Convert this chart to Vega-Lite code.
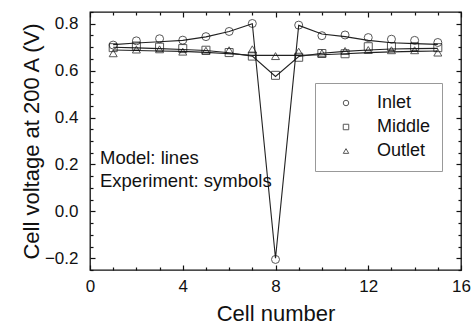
{
  "$schema": "https://vega.github.io/schema/vega-lite/v6.json",
  "width": 371,
  "height": 258,
  "autosize": "none",
  "padding": {"left": 90, "top": 12, "right": 12, "bottom": 56},
  "background": "white",
  "config": {
    "font": "Liberation Sans",
    "view": {"stroke": "#111", "strokeWidth": 1.3},
    "axis": {
      "grid": false,
      "domain": false,
      "tickColor": "#111",
      "tickWidth": 1.2,
      "labelColor": "#111",
      "titleColor": "#111",
      "labelFontSize": 17,
      "titleFontSize": 22,
      "titleFontWeight": "normal",
      "labelFlush": false,
      "labelOverlap": false
    },
    "legend": {
      "labelFontSize": 18,
      "labelColor": "#111"
    }
  },
  "datasets": {
    "model": [
      {"cell": 1, "series": "Inlet", "v": 0.711},
      {"cell": 2, "series": "Inlet", "v": 0.718},
      {"cell": 3, "series": "Inlet", "v": 0.723},
      {"cell": 4, "series": "Inlet", "v": 0.729},
      {"cell": 5, "series": "Inlet", "v": 0.744},
      {"cell": 6, "series": "Inlet", "v": 0.767},
      {"cell": 7, "series": "Inlet", "v": 0.8},
      {"cell": 8, "series": "Inlet", "v": -0.2},
      {"cell": 9, "series": "Inlet", "v": 0.793},
      {"cell": 10, "series": "Inlet", "v": 0.756},
      {"cell": 11, "series": "Inlet", "v": 0.745},
      {"cell": 12, "series": "Inlet", "v": 0.729},
      {"cell": 13, "series": "Inlet", "v": 0.719},
      {"cell": 14, "series": "Inlet", "v": 0.715},
      {"cell": 15, "series": "Inlet", "v": 0.712},
      {"cell": 1, "series": "Middle", "v": 0.7},
      {"cell": 2, "series": "Middle", "v": 0.697},
      {"cell": 3, "series": "Middle", "v": 0.694},
      {"cell": 4, "series": "Middle", "v": 0.69},
      {"cell": 5, "series": "Middle", "v": 0.686},
      {"cell": 6, "series": "Middle", "v": 0.676},
      {"cell": 7, "series": "Middle", "v": 0.662},
      {"cell": 8, "series": "Middle", "v": 0.575},
      {"cell": 9, "series": "Middle", "v": 0.66},
      {"cell": 10, "series": "Middle", "v": 0.674},
      {"cell": 11, "series": "Middle", "v": 0.682},
      {"cell": 12, "series": "Middle", "v": 0.688},
      {"cell": 13, "series": "Middle", "v": 0.692},
      {"cell": 14, "series": "Middle", "v": 0.694},
      {"cell": 15, "series": "Middle", "v": 0.695},
      {"cell": 1, "series": "Outlet", "v": 0.688},
      {"cell": 2, "series": "Outlet", "v": 0.686},
      {"cell": 3, "series": "Outlet", "v": 0.684},
      {"cell": 4, "series": "Outlet", "v": 0.682},
      {"cell": 5, "series": "Outlet", "v": 0.678},
      {"cell": 6, "series": "Outlet", "v": 0.672},
      {"cell": 7, "series": "Outlet", "v": 0.665},
      {"cell": 8, "series": "Outlet", "v": 0.665},
      {"cell": 9, "series": "Outlet", "v": 0.665},
      {"cell": 10, "series": "Outlet", "v": 0.668},
      {"cell": 11, "series": "Outlet", "v": 0.672},
      {"cell": 12, "series": "Outlet", "v": 0.677},
      {"cell": 13, "series": "Outlet", "v": 0.68},
      {"cell": 14, "series": "Outlet", "v": 0.682},
      {"cell": 15, "series": "Outlet", "v": 0.684}
    ],
    "experiment": [
      {"cell": 1, "series": "Inlet", "v": 0.709},
      {"cell": 2, "series": "Inlet", "v": 0.727},
      {"cell": 3, "series": "Inlet", "v": 0.736},
      {"cell": 4, "series": "Inlet", "v": 0.73},
      {"cell": 5, "series": "Inlet", "v": 0.745},
      {"cell": 6, "series": "Inlet", "v": 0.767},
      {"cell": 7, "series": "Inlet", "v": 0.801},
      {"cell": 8, "series": "Inlet", "v": -0.205},
      {"cell": 9, "series": "Inlet", "v": 0.794},
      {"cell": 10, "series": "Inlet", "v": 0.749},
      {"cell": 11, "series": "Inlet", "v": 0.752},
      {"cell": 12, "series": "Inlet", "v": 0.741},
      {"cell": 13, "series": "Inlet", "v": 0.734},
      {"cell": 14, "series": "Inlet", "v": 0.729},
      {"cell": 15, "series": "Inlet", "v": 0.72},
      {"cell": 1, "series": "Middle", "v": 0.698},
      {"cell": 2, "series": "Middle", "v": 0.705},
      {"cell": 3, "series": "Middle", "v": 0.7},
      {"cell": 4, "series": "Middle", "v": 0.694},
      {"cell": 5, "series": "Middle", "v": 0.687},
      {"cell": 6, "series": "Middle", "v": 0.677},
      {"cell": 7, "series": "Middle", "v": 0.662},
      {"cell": 8, "series": "Middle", "v": 0.58},
      {"cell": 9, "series": "Middle", "v": 0.657},
      {"cell": 10, "series": "Middle", "v": 0.673},
      {"cell": 11, "series": "Middle", "v": 0.672},
      {"cell": 12, "series": "Middle", "v": 0.702},
      {"cell": 13, "series": "Middle", "v": 0.703},
      {"cell": 14, "series": "Middle", "v": 0.702},
      {"cell": 15, "series": "Middle", "v": 0.698},
      {"cell": 1, "series": "Outlet", "v": 0.674},
      {"cell": 2, "series": "Outlet", "v": 0.69},
      {"cell": 3, "series": "Outlet", "v": 0.691},
      {"cell": 4, "series": "Outlet", "v": 0.681},
      {"cell": 5, "series": "Outlet", "v": 0.685},
      {"cell": 6, "series": "Outlet", "v": 0.687},
      {"cell": 7, "series": "Outlet", "v": 0.691},
      {"cell": 8, "series": "Outlet", "v": 0.662},
      {"cell": 9, "series": "Outlet", "v": 0.681},
      {"cell": 10, "series": "Outlet", "v": 0.674},
      {"cell": 11, "series": "Outlet", "v": 0.684},
      {"cell": 12, "series": "Outlet", "v": 0.688},
      {"cell": 13, "series": "Outlet", "v": 0.687},
      {"cell": 14, "series": "Outlet", "v": 0.687},
      {"cell": 15, "series": "Outlet", "v": 0.677}
    ],
    "notes": [
      {"x": 0.43, "y": 0.202, "text": "Model: lines"},
      {"x": 0.43, "y": 0.104, "text": "Experiment: symbols"}
    ]
  },
  "resolve": {"axis": {"x": "independent", "y": "independent"}},
  "layer": [
    {
      "data": {"name": "model"},
      "mark": {"type": "line", "color": "#222", "strokeWidth": 1.1},
      "encoding": {
        "x": {
          "field": "cell",
          "type": "quantitative",
          "scale": {"domain": [0, 16], "nice": false, "zero": false},
          "axis": {
            "orient": "bottom",
            "title": "Cell number",
            "values": [0, 1, 2, 3, 4, 5, 6, 7, 8, 9, 10, 11, 12, 13, 14, 15, 16],
            "labelExpr": "datum.value % 4 === 0 ? datum.label : ''",
            "tickSize": {"condition": {"test": "datum.value % 4 === 0", "value": -5}, "value": -3},
            "labelPadding": 13,
            "titlePadding": 7
          }
        },
        "y": {
          "field": "v",
          "type": "quantitative",
          "scale": {"domain": [-0.25, 0.85], "nice": false, "zero": false},
          "axis": {
            "orient": "left",
            "title": "Cell voltage at 200 A (V)",
            "values": [-0.25, -0.2, -0.15, -0.1, -0.05, 0, 0.05, 0.1, 0.15, 0.2, 0.25, 0.3, 0.35, 0.4, 0.45, 0.5, 0.55, 0.6, 0.65, 0.7, 0.75, 0.8, 0.85],
            "format": ".1f",
            "labelExpr": "abs(datum.value * 5 - round(datum.value * 5)) < 0.001 ? datum.label : ''",
            "tickSize": {"condition": {"test": "abs(datum.value * 5 - round(datum.value * 5)) < 0.001", "value": -5}, "value": -3},
            "labelPadding": 17,
            "titlePadding": 1
          }
        },
        "detail": {"field": "series"}
      }
    },
    {
      "data": {"name": "experiment"},
      "mark": {"type": "point", "filled": false, "color": "#111", "strokeWidth": 1, "size": 64},
      "encoding": {
        "x": {
          "field": "cell",
          "type": "quantitative",
          "axis": {
            "orient": "top",
            "title": null,
            "labels": false,
            "values": [0, 1, 2, 3, 4, 5, 6, 7, 8, 9, 10, 11, 12, 13, 14, 15, 16],
            "tickSize": {"condition": {"test": "datum.value % 4 === 0", "value": -5}, "value": -3}
          }
        },
        "y": {
          "field": "v",
          "type": "quantitative",
          "axis": {
            "orient": "right",
            "title": null,
            "labels": false,
            "values": [-0.25, -0.2, -0.15, -0.1, -0.05, 0, 0.05, 0.1, 0.15, 0.2, 0.25, 0.3, 0.35, 0.4, 0.45, 0.5, 0.55, 0.6, 0.65, 0.7, 0.75, 0.8, 0.85],
            "tickSize": {"condition": {"test": "abs(datum.value * 5 - round(datum.value * 5)) < 0.001", "value": -5}, "value": -3}
          }
        },
        "shape": {
          "field": "series",
          "type": "nominal",
          "scale": {"domain": ["Inlet", "Middle", "Outlet"], "range": ["circle", "square", "triangle-up"]},
          "legend": {
            "title": null,
            "orient": "none",
            "legendX": 225,
            "legendY": 71,
            "padding": 11,
            "strokeColor": "#999",
            "fillColor": "white",
            "symbolSize": 30,
            "symbolStrokeColor": "#111",
            "symbolStrokeWidth": 1,
            "symbolFillColor": "transparent",
            "symbolOffset": 11,
            "labelOffset": 22,
            "rowPadding": 6
          }
        }
      }
    },
    {
      "data": {"name": "notes"},
      "mark": {"type": "text", "align": "left", "baseline": "alphabetic", "fontSize": 18.5, "color": "#111"},
      "encoding": {
        "x": {"field": "x", "type": "quantitative", "axis": null},
        "y": {"field": "y", "type": "quantitative", "axis": null},
        "text": {"field": "text"}
      }
    }
  ]
}
